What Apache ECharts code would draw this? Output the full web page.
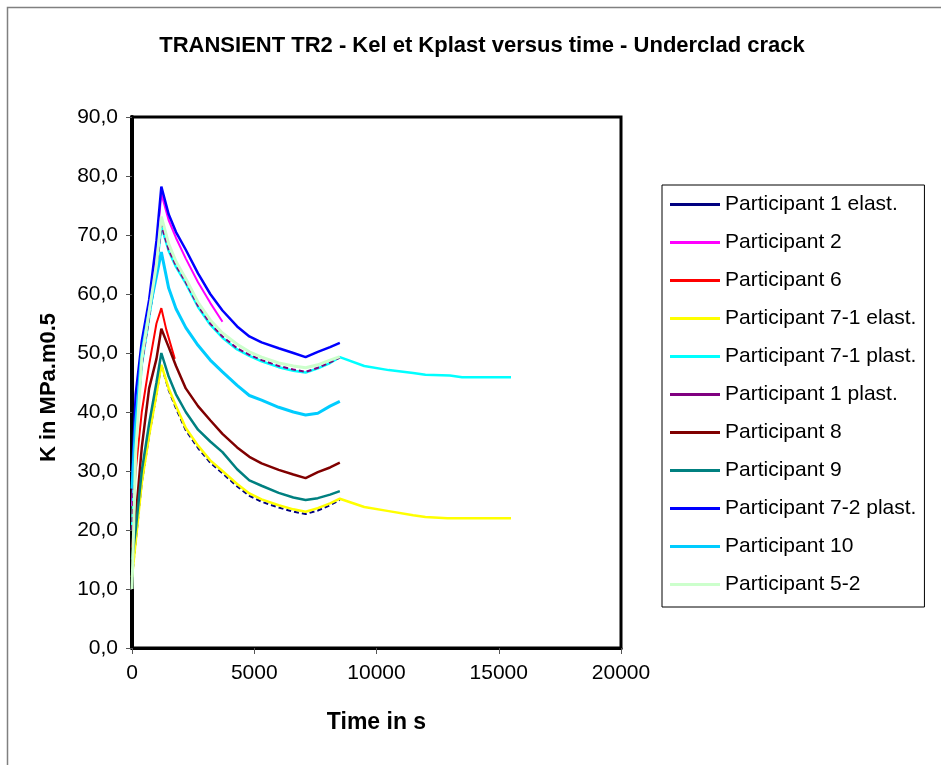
<!DOCTYPE html>
<html>
<head>
<meta charset="utf-8">
<script src="https://cdn.jsdelivr.net/npm/echarts@6/dist/echarts.min.js"></script>
<style>
html,body{margin:0;padding:0;background:#fff;}
#c{width:941px;height:765px;}
</style>
</head>
<body>
<div id="c"></div>
<script>
// ---- data (time in s, K in MPa.m0.5) ----
const T = [0,150,400,700,1000,1200,1500,1800,2200,2700,3200,3700,4300,4800,5300,6000,6600,7100,7600,8100,8500];

const p1Elast  = [12,18,28,36,43,48,43.7,40.6,36.9,33.9,31.4,29.6,27.4,25.8,24.8,23.8,23.1,22.7,23.3,24.2,25.1];
const p71Elast = [12,18,28,36,43,48,44,41,37.3,34.3,31.8,30,27.8,26.2,25.2,24.2,23.5,23.1,23.7,24.5,25.3];
const p71ElastTailT = [9500,10500,11500,12000,12900,15500];
const p71ElastTail  = [23.9,23.2,22.5,22.2,22,22];

const p1Plast  = [20,36,48,56,64,71.7,67.5,64.8,62,58,55,52.8,50.8,49.7,48.8,47.8,47.2,46.8,47.5,48.4,49.2];
const p71Plast = [20,36,48,56,64,71.5,67.3,64.6,61.8,57.8,54.8,52.6,50.6,49.5,48.6,47.6,47,46.7,47.4,48.3,49.3];
const p71PlastTailT = [9500,10500,11500,12000,13000,13500,15500];
const p71PlastTail  = [47.8,47.1,46.6,46.3,46.2,45.9,45.9];

const p2T = [0,150,400,700,1000,1200,1500,1800,2200,2700,3200,3700];
const p2  = [24,38,50,58,68,77,72.5,69.5,66,62,58.5,55.3];

const p6T = [0,150,400,700,1000,1200,1400,1750];
const p6  = [22,30,40,48,55,57.6,54,49];

const p8   = [17,22,34,44,49,54.1,51,47.8,44,41,38.6,36.3,34,32.4,31.3,30.2,29.4,28.8,29.8,30.6,31.4];
const p9   = [15,20,30,38,45,50,46,43,40,37,35,33.2,30.3,28.4,27.5,26.3,25.5,25.1,25.4,26,26.6];
const p72Plast = [28,43,52,59,69,78.2,73.5,70.5,67.5,63.5,60,57.2,54.5,52.8,51.8,50.8,50,49.3,50.2,51,51.7];
const p10  = [27,38,50,57,63,67.1,61,57.5,54.3,51.3,48.8,46.8,44.5,42.8,42,40.8,40,39.5,39.8,41,41.8];
const p52  = [10,33,49,57,65,73.1,68.5,65.5,62.6,58.6,55.6,53.4,51.5,50.2,49.3,48.3,47.8,47.5,48,48.8,49.4];

function pairs(t, v){ return t.map((x,i)=>[x,v[i]]); }

const seriesDefs = [
  {name:'Participant 1 elast.',      color:'#000080', data:pairs(T,p1Elast), width:2, dash:[5,3]},
  {name:'Participant 2',             color:'#FF00FF', data:pairs(p2T,p2), width:2},
  {name:'Participant 6',             color:'#FF0000', data:pairs(p6T,p6), width:2},
  {name:'Participant 7-1 elast.',    color:'#FFFF00', data:pairs(T,p71Elast).concat(pairs(p71ElastTailT,p71ElastTail)), width:2.5},
  {name:'Participant 7-1 plast.',    color:'#00FFFF', data:pairs(T,p71Plast).concat(pairs(p71PlastTailT,p71PlastTail)), width:2.5},
  {name:'Participant 1 plast.',      color:'#800080', data:pairs(T,p1Plast), width:2, dash:[5,3]},
  {name:'Participant 8',             color:'#800000', data:pairs(T,p8), width:2.5},
  {name:'Participant 9',             color:'#008080', data:pairs(T,p9), width:2.5},
  {name:'Participant 7-2 plast.',    color:'#0000FF', data:pairs(T,p72Plast), width:2.5},
  {name:'Participant 10',            color:'#00CCFF', data:pairs(T,p10), width:3},
  {name:'Participant 5-2',           color:'#CCFFCC', data:pairs(T,p52), width:3}
];

const chart = echarts.init(document.getElementById('c'), null, {renderer:'canvas'});
const option = {
  animation:false,
  backgroundColor:'#fff',
  title:{
    text:'TRANSIENT TR2 - Kel et Kplast versus time - Underclad crack',
    left:477, top:30, textAlign:'center',
    textStyle:{fontFamily:'Liberation Sans', fontWeight:'bold', fontSize:22, color:'#000'}
  },
  grid:{left:132, right:320, top:117, bottom:117, show:true, borderColor:'#000', borderWidth:3, backgroundColor:'#fff'},
  xAxis:{
    type:'value', min:0, max:20000, interval:5000,
    name:'Time in s', nameLocation:'middle', nameGap:63,
    nameTextStyle:{fontFamily:'Liberation Sans', fontWeight:'bold', fontSize:23, color:'#000'},
    axisLine:{show:true, onZero:false, lineStyle:{color:'#000', width:3}},
    axisTick:{show:true, inside:false, length:6, lineStyle:{color:'#555', width:1}},
    axisLabel:{margin:15, fontFamily:'Liberation Sans', fontSize:21, color:'#000', formatter:v=>String(v)},
    splitLine:{show:false}
  },
  yAxis:{
    type:'value', min:0, max:90, interval:10,
    name:'K in MPa.m0.5', nameLocation:'middle', nameGap:72,
    nameTextStyle:{fontFamily:'Liberation Sans', fontWeight:'bold', fontSize:22, color:'#000', padding:[0,10,0,0]},
    axisLine:{show:true, onZero:false, lineStyle:{color:'#000', width:4}},
    axisTick:{show:true, inside:false, length:6, lineStyle:{color:'#555', width:1}},
    axisLabel:{margin:14, fontFamily:'Liberation Sans', fontSize:21, color:'#000', formatter:v=>v.toFixed(1).replace('.',',')},
    splitLine:{show:false}
  },
  legend:{
    orient:'vertical', left:662, top:185,
    padding:[9,8,12,8],
    borderColor:'#000', borderWidth:1, backgroundColor:'#fff',
    itemWidth:50, itemHeight:14, itemGap:17,
    textStyle:{fontFamily:'Liberation Sans', fontSize:21, color:'#000', padding:[0,0,0,0]},
    data: seriesDefs.map(s=>({name:s.name, icon:'path://M0,0 L50,0 L50,3 L0,3 Z', itemStyle:{color:s.color}})),
    selectedMode:false
  },
  graphic:[
    {type:'rect', shape:{x:7.5, y:7.5, width:1000, height:1000}, style:{fill:'none', stroke:'#808080', lineWidth:1.5}, silent:true, z:-1}
  ],
  series: seriesDefs.map(s=>({
    name:s.name, type:'line', data:s.data, symbol:'none', smooth:false,
    lineStyle:{color:s.color, width:s.width, type:s.dash?s.dash:'solid'},
    itemStyle:{color:s.color}
  }))
};
chart.setOption(option);
</script>
</body>
</html>
